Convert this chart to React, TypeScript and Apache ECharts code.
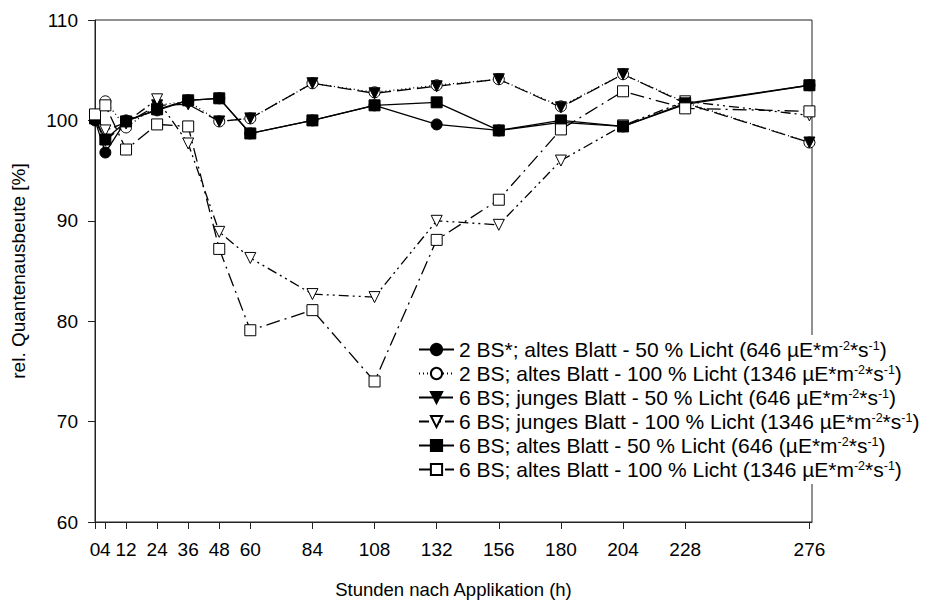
import React, { useEffect, useRef } from "react";
import * as echarts from "echarts";

const hours = [0, 4, 12, 24, 36, 48, 60, 84, 108, 132, 156, 180, 204, 228, 276];
const tickHours = [0, 4, 12, 24, 36, 48, 60, 84, 108, 132, 156, 180, 204, 228, 276];
const mainLabelHours = [0, 12, 24, 36, 48, 60, 84, 108, 132, 156, 180, 204, 228, 276];
const extraLabelHours = [4];

const s1 = [100.0, 96.8, 100.0, 101.0, 102.0, 102.2, 98.7, 100.0, 101.5, 99.6, 99.0, 99.8, 99.4, 101.6, 103.5];
const s2 = [100.2, 101.9, 99.3, 101.5, 101.9, 99.9, 100.2, 103.7, 102.8, 103.5, 104.1, 101.4, 104.6, 101.8, 97.8];
const s3 = [100.0, 98.0, 99.7, 101.5, 101.6, 99.9, 100.2, 103.7, 102.7, 103.4, 104.1, 101.3, 104.6, 101.7, 97.8];
const s4 = [100.3, 99.0, 99.8, 102.1, 97.7, 88.9, 86.3, 82.7, 82.4, 90.0, 89.6, 96.0, 99.5, 101.9, 100.5];
const s5 = [100.2, 98.1, 99.9, 101.1, 102.0, 102.2, 98.7, 100.0, 101.5, 101.8, 99.0, 100.0, 99.4, 101.7, 103.5];
const s6 = [100.6, 101.5, 97.1, 99.6, 99.4, 87.2, 79.1, 81.1, 74.0, 88.1, 92.1, 99.1, 102.9, 101.2, 100.9];

const names = [
  "2 BS*; altes Blatt - 50 % Licht (646 µE*m-2*s-1)",
  "2 BS; altes Blatt - 100 % Licht (1346 µE*m-2*s-1)",
  "6 BS; junges Blatt - 50 % Licht (646 µE*m-2*s-1)",
  "6 BS; junges Blatt - 100 % Licht (1346 µE*m-2*s-1)",
  "6 BS; altes Blatt - 50 % Licht (646 (µE*m-2*s-1)",
  "6 BS; altes Blatt - 100 % Licht (1346 µE*m-2*s-1)",
];

const FONT = "Liberation Sans, Arial, Helvetica, sans-serif";

function pairs(vals: number[]) {
  return hours.map((h, i) => [h, vals[i]]);
}

export default function App() {
  const ref = useRef<HTMLDivElement>(null);
  useEffect(() => {
    document.body.style.margin = "0";
    const chart = echarts.init(ref.current!, null, { renderer: "svg" });
    const mk = (
      name: string,
      vals: number[],
      symbol: string,
      filled: boolean,
      lineType: any,
      rotate = 0
    ) => ({
      name,
      type: "line",
      xAxisIndex: 0,
      data: pairs(vals),
      symbol,
      symbolSize: 11,
      symbolRotate: rotate,
      showAllSymbol: true,
      lineStyle: { color: "#000", width: 1.3, type: lineType },
      itemStyle: {
        color: filled ? "#000" : "#fff",
        borderColor: "#000",
        borderWidth: 1,
      },
      emphasis: { disabled: true },
    });
    const labelBase = {
      margin: 18,
      fontFamily: FONT,
      fontSize: 19,
      color: "#000",
      hideOverlap: false,
    };
    chart.setOption({
      animation: false,
      backgroundColor: "#fff",
      grid: {
        left: 95,
        top: 20,
        width: 717,
        height: 503,
        show: true,
        borderColor: "#222",
        borderWidth: 1,
      },
      legend: {
        left: 414,
        top: 335,
        orient: "vertical",
        itemWidth: 35,
        itemHeight: 14,
        itemGap: 3,
        padding: [4, 4, 4, 4],
        backgroundColor: "#fff",
        data: names,
        formatter: (n: string) => n.replace("m-2*s-1", "m{sup|-2}*s{sup|-1}"),
        textStyle: {
          fontFamily: FONT,
          fontSize: 21,
          color: "#000",
          lineHeight: 21,
          rich: {
            sup: { fontFamily: FONT, fontSize: 12.5, lineHeight: 11, verticalAlign: "top", color: "#000" },
          },
        },
      },
      xAxis: [
        {
          type: "value",
          min: 0,
          max: 277,
          name: "Stunden nach Applikation (h)",
          nameLocation: "middle",
          nameGap: 58,
          nameTextStyle: { fontFamily: FONT, fontSize: 18.5, color: "#000" },
          axisLine: { show: true, onZero: false, lineStyle: { color: "#222", width: 1 } },
          axisTick: { show: true, inside: false, length: 7, customValues: tickHours, lineStyle: { color: "#222" } },
          axisLabel: { ...labelBase, customValues: mainLabelHours, showMinLabel: true, showMaxLabel: true },
          splitLine: { show: false },
        },
        {
          type: "value",
          position: "bottom",
          min: 0,
          max: 277,
          axisLine: { show: false, onZero: false },
          axisTick: { show: false },
          axisLabel: { ...labelBase, customValues: extraLabelHours, showMinLabel: true, showMaxLabel: true },
          splitLine: { show: false },
        },
      ],
      yAxis: {
        type: "value",
        min: 60,
        max: 110,
        interval: 10,
        name: "rel. Quantenausbeute [%]",
        nameLocation: "middle",
        nameGap: 67,
        nameTextStyle: { fontFamily: FONT, fontSize: 19, color: "#000" },
        axisLine: { show: true, onZero: false, lineStyle: { color: "#222", width: 1 } },
        axisTick: { show: true, inside: false, length: 7, lineStyle: { color: "#222" } },
        axisLabel: { margin: 17, fontFamily: FONT, fontSize: 19, color: "#000" },
        splitLine: { show: false },
      },
      series: [
        mk(names[0], s1, "circle", true, "solid"),
        mk(names[1], s2, "circle", false, [1, 3]),
        mk(names[2], s3, "triangle", true, [14, 6], 180),
        mk(names[3], s4, "triangle", false, [10, 4, 2, 4, 2, 4], 180),
        mk(names[4], s5, "rect", true, "solid"),
        mk(names[5], s6, "rect", false, [14, 5, 2, 5]),
      ],
    });
    return () => chart.dispose();
  }, []);
  return <div ref={ref} style={{ width: 926, height: 604 }} />;
}
